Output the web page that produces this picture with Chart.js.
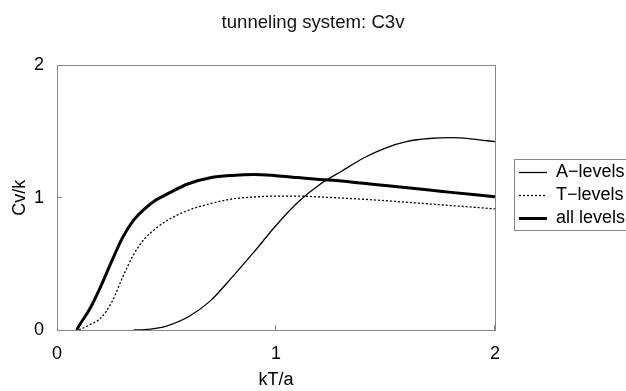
<!DOCTYPE html>
<html>
<head>
<meta charset="utf-8">
<script src="https://cdn.jsdelivr.net/npm/chart.js@4.4.1/dist/chart.umd.min.js"></script>
<style>
  html, body { margin: 0; padding: 0; background: #fff; }
  #wrap { width: 626px; height: 391px; }
</style>
</head>
<body>
<div id="wrap"><canvas id="chart"></canvas></div>
<script>
// values, kT/a on the x axis
const kT = [0.09, 0.1, 0.15, 0.2, 0.25, 0.3, 0.35, 0.4, 0.45, 0.5, 0.6, 0.7, 0.8, 0.9, 1.0, 1.1, 1.2, 1.3, 1.4, 1.5, 1.6, 1.7, 1.8, 1.9, 2.0]
const aLevels = [null, null, null, null, null, null, 0, 0.003, 0.012, 0.03, 0.10, 0.22, 0.40, 0.59, 0.79, 0.965, 1.10, 1.20, 1.30, 1.375, 1.425, 1.447, 1.453, 1.443, 1.423]
const tLevels = [null, 0, 0.04, 0.09, 0.21, 0.40, 0.57, 0.69, 0.765, 0.825, 0.905, 0.955, 0.99, 1.005, 1.012, 1.012, 1.005, 0.997, 0.988, 0.977, 0.965, 0.953, 0.94, 0.928, 0.915]
const allLevels = [0, 0.03, 0.16, 0.33, 0.52, 0.70, 0.83, 0.915, 0.98, 1.025, 1.105, 1.15, 1.168, 1.175, 1.166, 1.152, 1.138, 1.125, 1.108, 1.092, 1.075, 1.058, 1.04, 1.023, 1.007]
const seriesNames = ['A\u2212levels', 'T\u2212levels', 'all levels']
const xTicks = [0, 1, 2]
const yTicks = [0, 1, 2]

const toPoints = (list) => list.map((v, i) => ({ x: kT[i], y: v }))
const font = 'Liberation Sans, Arial, sans-serif'

// grey frame round the plot and the legend
const frame = {
  id: 'frame',
  beforeInit(chart) {
    const fit = chart.legend.fit
    chart.legend.fit = function () {
      fit.call(this)
      this.width += 10
    }
  },
  afterLayout(chart) {
    chart.legend.left += 19
    chart.legend.right += 19
  },
  afterDraw(chart) {
    const { ctx, chartArea: a, legend } = chart
    ctx.save()
    ctx.strokeStyle = '#888'
    ctx.lineWidth = 1
    ctx.strokeRect(Math.round(a.left) + 0.5, Math.round(a.top) + 0.5, Math.round(a.width), Math.round(a.height))
    const boxes = legend.legendHitBoxes
    const last = boxes[boxes.length - 1]
    const top = Math.round(boxes[0].top - 5)
    const bottom = Math.round(last.top + last.height + 2)
    ctx.strokeRect(Math.round(legend.left) + 0.5, top + 0.5, 140, bottom - top)
    ctx.restore()
  }
}

const common = {
  fill: false,
  pointRadius: 0,
  pointHoverRadius: 0,
  borderColor: '#000',
  cubicInterpolationMode: 'monotone',
  spanGaps: false
}

new Chart(document.getElementById('chart'), {
  type: 'line',
  data: {
    datasets: [
      { ...common, label: seriesNames[0], data: toPoints(aLevels), borderWidth: 1.3 },
      { ...common, label: seriesNames[1], data: toPoints(tLevels), borderWidth: 1.3, borderDash: [2, 2] },
      { ...common, label: seriesNames[2], data: toPoints(allLevels), borderWidth: 3 }
    ]
  },
  options: {
    responsive: true,
    maintainAspectRatio: false,
    animation: false,
    layout: { padding: 0 },
    plugins: {
      title: {
        display: true,
        text: 'tunneling system: C3v',
        color: '#111',
        font: { family: font, size: 18.6, weight: 'normal' },
        padding: { top: 12, bottom: 31 }
      },
      legend: {
        position: 'right',
        labels: {
          usePointStyle: true,
          pointStyle: 'line',
          pointStyleWidth: 28,
          boxHeight: 18,
          padding: 5,
          color: '#000',
          font: { family: font, size: 18 },
          generateLabels: (chart) => Chart.defaults.plugins.legend.labels.generateLabels(chart).map((item, i) => ({
            ...item,
            lineDash: chart.data.datasets[i].borderDash || [],
            lineWidth: chart.data.datasets[i].borderWidth
          }))
        }
      },
      tooltip: { enabled: false }
    },
    scales: {
      x: {
        type: 'linear',
        min: 0,
        max: 2,
        afterBuildTicks: (s) => { s.ticks = xTicks.map(v => ({ value: v })) },
        afterFit: (s) => { s.height = 61 },
        border: { display: false },
        grid: { drawOnChartArea: false, drawTicks: true, tickLength: -5, color: '#888' },
        ticks: { color: '#000', padding: 18, font: { family: font, size: 18 } },
        title: { display: true, text: 'kT/a', color: '#000', font: { family: font, size: 18 }, padding: { top: 5, bottom: 0 } }
      },
      y: {
        min: 0,
        max: 2,
        afterBuildTicks: (s) => { s.ticks = yTicks.map(v => ({ value: v })) },
        afterFit: (s) => { s.width = 57 },
        border: { display: false },
        grid: { drawOnChartArea: false, drawTicks: true, tickLength: -5, color: '#888' },
        ticks: { color: '#000', padding: 18, font: { family: font, size: 18 } },
        title: { display: true, text: 'Cv/k', color: '#000', font: { family: font, size: 18 }, padding: { top: 9, bottom: 4 } }
      }
    }
  },
  plugins: [frame]
})
</script>
</body>
</html>
